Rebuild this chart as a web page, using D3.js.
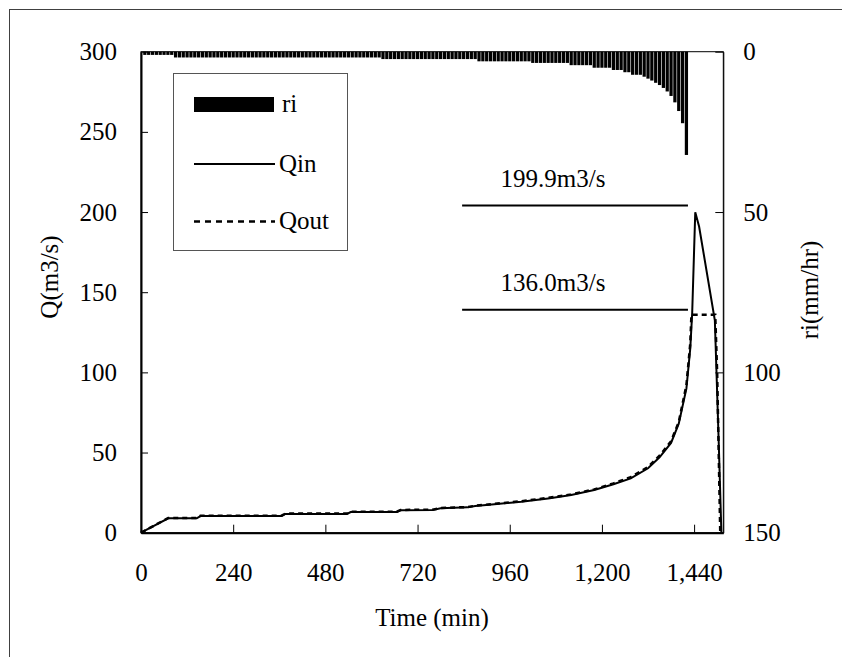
<!DOCTYPE html>
<html><head><meta charset="utf-8">
<script src="https://cdn.jsdelivr.net/npm/d3@7"></script>
<style>html,body{margin:0;padding:0;background:#fff;}svg{display:block;}</style>
</head><body>
<script>
// ---- data ----
const qinTime = [0,71,145,155,366,376,536,546,666,676,760,780,850,870,920,990,1060,1120,1180,1230,1275,1320,1350,1380,1400,1420,1430,1435,1443,1453,1494,1504,1511];
const qinValues = [0,9.0,9.0,10.4,10.4,11.7,11.7,12.9,12.9,14.0,14.2,15.2,15.8,16.6,17.8,19.3,21.4,23.5,26.6,30.2,33.9,40.2,47,56,68,90,115,137,199.9,191,132.5,57,0];
const qoutTime = [0,71,145,155,366,376,536,546,666,676,760,780,850,870,920,990,1060,1120,1180,1230,1275,1320,1350,1380,1400,1420,1430,1433,1495,1500,1508];
const qoutValues = [0,9.2,9.2,10.6,10.6,11.9,11.9,13.1,13.1,14.2,14.4,15.4,16.0,16.8,18.0,19.6,21.7,23.9,27.0,30.8,34.6,41.0,48,57,69,92,118,136.0,136.0,100,0];
const riTime = [10,20,30,40,50,60,70,80,90,100,110,120,130,140,150,160,170,180,190,200,210,220,230,240,250,260,270,280,290,300,310,320,330,340,350,360,370,380,390,400,410,420,430,440,450,460,470,480,490,500,510,520,530,540,550,560,570,580,590,600,610,620,630,640,650,660,670,680,690,700,710,720,730,740,750,760,770,780,790,800,810,820,830,840,850,860,870,880,890,900,910,920,930,940,950,960,970,980,990,1000,1010,1020,1030,1040,1050,1060,1070,1080,1090,1100,1110,1120,1130,1140,1150,1160,1170,1180,1190,1200,1210,1220,1230,1240,1250,1260,1270,1280,1290,1300,1310,1320,1330,1340,1350,1360,1370,1380,1390,1400,1410,1420];
const riValues = [
 1,1,1,1,1,1,1,1,
 1.8,1.8,1.8,1.8,1.8,1.8,1.8,1.8,1.8,1.8,1.8,1.8,1.8,1.8,1.8,1.8,1.8,1.8,1.8,1.8,1.8,1.8,1.8,1.8,1.8,1.8,1.8,1.8,1.8,1.8,1.8,1.8,1.8,1.8,1.8,1.8,1.8,1.8,1.8,1.8,1.8,1.8,1.8,1.8,1.8,1.8,1.8,1.8,1.8,1.8,1.8,1.8,1.8,1.8,
 2.3,2.3,2.3,2.3,2.3,2.3,2.3,2.3,2.3,2.3,2.3,2.3,2.3,2.3,2.3,2.3,2.3,2.3,2.3,2.3,2.3,2.3,2.3,2.3,2.3,
 3.0,3.0,3.0,3.0,3.0,3.0,3.0,3.0,3.0,3.0,3.0,3.0,3.0,3.0,
 3.5,3.5,3.5,3.5,3.5,3.5,3.5,3.5,3.5,3.5,
 4.2,4.2,4.2,4.2,4.2,4.2,
 5.0,5.0,5.0,5.0,5.0,
 5.7,5.7,5.7,
 6.4,6.4,
 7.2,7.2,7.2,
 7.8,8.4,9.0,9.7,10.4,11.3,12.4,13.8,15.8,18.5,22.3,32.2];
const xTicks = [0,240,480,720,960,1200,1440];
const qTicks = [0,50,100,150,200,250,300];
const riTicks = [0,50,100,150];
const peakLabels = ["199.9m3/s","136.0m3/s"];
const peakLevels = [204,139];
const peakSpan = [836,1424];
const legendNames = ["ri","Qin","Qout"];

// ---- layout ----
const W = 842, H = 657;
const L = 141, R = 723.3, T = 51.7, B = 532.7;
const FONT = "'Liberation Serif','Times New Roman',serif";
const FS = 25;

const svg = d3.select("body").append("svg").attr("width", W).attr("height", H)
  .style("font-family", FONT);

svg.append("rect").attr("x", 9.5).attr("y", 9.5).attr("width", 900).attr("height", 900)
  .attr("fill", "#fff").attr("stroke", "#404040").attr("stroke-width", 1);

const x = d3.scaleLinear().domain([0, 1516]).range([L, R]);
const yQ = d3.scaleLinear().domain([0, 300]).range([B, T]);
const yR = d3.scaleLinear().domain([0, 150]).range([T, B]);

// plot area border
svg.append("rect").attr("x", L).attr("y", T).attr("width", R - L).attr("height", B - T)
  .attr("fill", "none").attr("stroke", "#000").attr("stroke-width", 1);

// rain bars
const bw = x(10) - x(0);
svg.append("g").selectAll("rect").data(riValues).join("rect")
  .attr("x", (d, i) => x(riTime[i]) - bw / 2 + 0.3)
  .attr("y", yR(0))
  .attr("width", bw - 0.6)
  .attr("height", d => yR(d) - yR(0))
  .attr("fill", "#000");

// lines
const lineQin = d3.line().x((d, i) => x(qinTime[i])).y(d => yQ(d));
const lineQout = d3.line().x((d, i) => x(qoutTime[i])).y(d => yQ(d));
svg.append("path").attr("d", lineQout(qoutValues)).attr("fill", "none")
  .attr("stroke", "#000").attr("stroke-width", 2.5).attr("stroke-dasharray", "5,4");
svg.append("path").attr("d", lineQin(qinValues)).attr("fill", "none")
  .attr("stroke", "#000").attr("stroke-width", 2);

// peak annotations
peakLevels.forEach((v, i) => {
  svg.append("line").attr("x1", x(peakSpan[0])).attr("x2", x(peakSpan[1]))
    .attr("y1", yQ(v)).attr("y2", yQ(v)).attr("stroke", "#000").attr("stroke-width", 2);
  svg.append("text").attr("x", 553).attr("y", yQ(v) - 19)
    .attr("text-anchor", "middle").attr("font-size", FS).text(peakLabels[i]);
});

// axes
function styleAxis(g, width) {
  g.select(".domain").attr("stroke", "#000").attr("stroke-width", width);
  g.selectAll(".tick line").attr("stroke", "#000").attr("stroke-width", 1);
  g.selectAll("text").attr("font-family", FONT).attr("font-size", FS).attr("fill", "#000");
}
svg.append("g").attr("transform", `translate(${L},0)`)
  .call(d3.axisLeft(yQ).tickValues(qTicks).tickSizeInner(-7).tickSizeOuter(0).tickPadding(24))
  .call(g => styleAxis(g, 2));
svg.append("g").attr("transform", `translate(${R},0)`)
  .call(d3.axisRight(yR).tickValues(riTicks).tickSizeInner(-8).tickSizeOuter(0).tickPadding(20))
  .call(g => styleAxis(g, 1));
svg.append("g").attr("transform", `translate(0,${B})`)
  .call(d3.axisBottom(x).tickValues(xTicks).tickFormat(d3.format(",")).tickSizeInner(-8).tickSizeOuter(0).tickPadding(30.5))
  .call(g => styleAxis(g, 2));

// axis titles
svg.append("text").attr("x", 432).attr("y", 626).attr("text-anchor", "middle")
  .attr("font-size", FS).text("Time (min)");
svg.append("text").attr("transform", "translate(58,277) rotate(-90)").attr("text-anchor", "middle")
  .attr("font-size", FS).text("Q(m3/s)");
svg.append("text").attr("transform", "translate(818,290) rotate(-90)").attr("text-anchor", "middle")
  .attr("font-size", FS).text("ri(mm/hr)");

// legend
const lg = svg.append("g");
lg.append("rect").attr("x", 173.5).attr("y", 73.5).attr("width", 174).attr("height", 177)
  .attr("fill", "#fff").attr("stroke", "#555").attr("stroke-width", 1);
lg.append("rect").attr("x", 194).attr("y", 97).attr("width", 80).attr("height", 15).attr("fill", "#000");
lg.append("line").attr("x1", 194).attr("x2", 275).attr("y1", 164).attr("y2", 164)
  .attr("stroke", "#000").attr("stroke-width", 2);
lg.append("line").attr("x1", 194).attr("x2", 275).attr("y1", 221.5).attr("y2", 221.5)
  .attr("stroke", "#000").attr("stroke-width", 2.5).attr("stroke-dasharray", "6,5");
[112, 172, 229].forEach((yy, i) => {
  lg.append("text").attr("x", i === 0 ? 282 : 279).attr("y", yy).attr("font-size", FS).text(legendNames[i]);
});
</script>
</body></html>
